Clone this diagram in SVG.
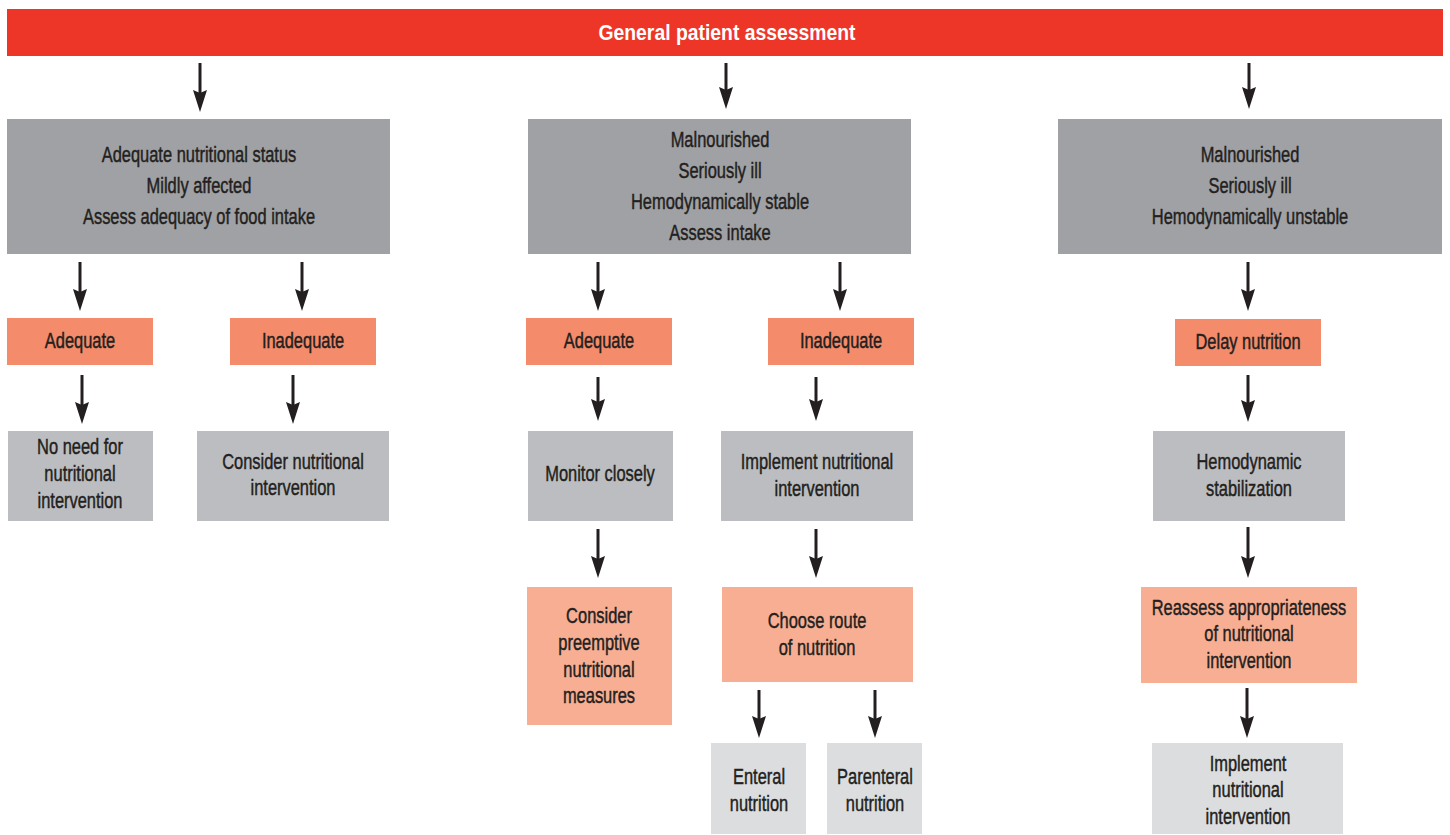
<svg xmlns="http://www.w3.org/2000/svg" width="1450" height="835" viewBox="0 0 1450 835">
<defs>
<style>
.t{font-family:"Liberation Sans",Arial,sans-serif;font-size:21.5px;fill:#231F20;stroke:#231F20;stroke-width:0.45px;text-anchor:middle}
.title{font-family:"Liberation Sans",Arial,sans-serif;font-size:22px;font-weight:bold;fill:#FFFFFF;text-anchor:middle}
.red{fill:#EE3628}
.g1{fill:#A0A1A4}
.o1{fill:#F48B6A}
.g2{fill:#BCBDC0}
.o2{fill:#F8AE93}
.g3{fill:#DCDDDF}
.arr{stroke:#231F20;stroke-width:3;fill:none;marker-end:url(#ah)}
</style>
<marker id="ah" viewBox="0 0 22 14" refX="10" refY="7" markerWidth="22" markerHeight="14" markerUnits="userSpaceOnUse" orient="auto">
<path d="M0,0 L22,7 L0,14 L3,7 z" fill="#231F20"/>
</marker>
</defs>
<rect width="1450" height="835" fill="#FFFFFF"/>

<g id="connectors">
<path class="arr" d="M200,63 V100"/>
<path class="arr" d="M726,63 V97"/>
<path class="arr" d="M1249,63 V97"/>
<path class="arr" d="M80,262 V299"/>
<path class="arr" d="M302,262 V299"/>
<path class="arr" d="M598,262 V299"/>
<path class="arr" d="M840,262 V299"/>
<path class="arr" d="M1248,262 V299"/>
<path class="arr" d="M82,375 V412"/>
<path class="arr" d="M293,375 V412"/>
<path class="arr" d="M598,377 V409"/>
<path class="arr" d="M816,377 V409"/>
<path class="arr" d="M1248,375 V410"/>
<path class="arr" d="M598,529 V566"/>
<path class="arr" d="M816,529 V566"/>
<path class="arr" d="M1248,527 V566"/>
<path class="arr" d="M759,690 V726"/>
<path class="arr" d="M875,690 V726"/>
<path class="arr" d="M1247,688 V726"/>
</g>

<g id="n-general">
<rect class="red" x="7" y="9" width="1436" height="47"/>
<text class="title" transform="translate(727,40) scale(0.88,1)" x="0" y="0">General patient assessment</text>
</g>

<g id="n-adequate-status">
<rect class="g1" x="7" y="119" width="383" height="135"/>
<g transform="translate(199,0) scale(0.765,1)">
<text class="t" x="0" y="162">Adequate nutritional status</text>
<text class="t" x="0" y="193">Mildly affected</text>
<text class="t" x="0" y="224">Assess adequacy of food intake</text>
</g>
</g>

<g id="n-malnourished-stable">
<rect class="g1" x="528" y="119" width="383" height="135"/>
<g transform="translate(720,0) scale(0.765,1)">
<text class="t" x="0" y="147">Malnourished</text>
<text class="t" x="0" y="178">Seriously ill</text>
<text class="t" x="0" y="209">Hemodynamically stable</text>
<text class="t" x="0" y="240">Assess intake</text>
</g>
</g>

<g id="n-malnourished-unstable">
<rect class="g1" x="1058" y="119" width="384" height="135"/>
<g transform="translate(1250,0) scale(0.765,1)">
<text class="t" x="0" y="162">Malnourished</text>
<text class="t" x="0" y="193">Seriously ill</text>
<text class="t" x="0" y="224">Hemodynamically unstable</text>
</g>
</g>

<g id="n-adequate-1">
<rect class="o1" x="7" y="318" width="146" height="47"/>
<g transform="translate(80,0) scale(0.765,1)"><text class="t" x="0" y="348">Adequate</text></g>
</g>

<g id="n-inadequate-1">
<rect class="o1" x="230" y="318" width="146" height="47"/>
<g transform="translate(303,0) scale(0.765,1)"><text class="t" x="0" y="348">Inadequate</text></g>
</g>

<g id="n-adequate-2">
<rect class="o1" x="526" y="318" width="146" height="47"/>
<g transform="translate(599,0) scale(0.765,1)"><text class="t" x="0" y="348">Adequate</text></g>
</g>

<g id="n-inadequate-2">
<rect class="o1" x="768" y="318" width="146" height="47"/>
<g transform="translate(841,0) scale(0.765,1)"><text class="t" x="0" y="348">Inadequate</text></g>
</g>

<g id="n-delay">
<rect class="o1" x="1175" y="319" width="146" height="47"/>
<g transform="translate(1248,0) scale(0.765,1)"><text class="t" x="0" y="349">Delay nutrition</text></g>
</g>

<g id="n-no-need">
<rect class="g2" x="8" y="431" width="145" height="90"/>
<g transform="translate(80,0) scale(0.765,1)">
<text class="t" x="0" y="454">No need for</text>
<text class="t" x="0" y="481">nutritional</text>
<text class="t" x="0" y="508">intervention</text>
</g>
</g>

<g id="n-consider-1">
<rect class="g2" x="197" y="431" width="192" height="90"/>
<g transform="translate(293,0) scale(0.765,1)">
<text class="t" x="0" y="469">Consider nutritional</text>
<text class="t" x="0" y="495">intervention</text>
</g>
</g>

<g id="n-monitor">
<rect class="g2" x="528" y="431" width="145" height="90"/>
<g transform="translate(600,0) scale(0.765,1)">
<text class="t" x="0" y="481">Monitor closely</text>
</g>
</g>

<g id="n-implement-1">
<rect class="g2" x="721" y="431" width="192" height="90"/>
<g transform="translate(817,0) scale(0.765,1)">
<text class="t" x="0" y="469">Implement nutritional</text>
<text class="t" x="0" y="496">intervention</text>
</g>
</g>

<g id="n-hemodynamic">
<rect class="g2" x="1153" y="431" width="192" height="90"/>
<g transform="translate(1249,0) scale(0.765,1)">
<text class="t" x="0" y="469">Hemodynamic</text>
<text class="t" x="0" y="496">stabilization</text>
</g>
</g>

<g id="n-preemptive">
<rect class="o2" x="527" y="587" width="145" height="138"/>
<g transform="translate(599,0) scale(0.765,1)">
<text class="t" x="0" y="623">Consider</text>
<text class="t" x="0" y="650">preemptive</text>
<text class="t" x="0" y="677">nutritional</text>
<text class="t" x="0" y="703">measures</text>
</g>
</g>

<g id="n-route">
<rect class="o2" x="722" y="587" width="191" height="95"/>
<g transform="translate(817,0) scale(0.765,1)">
<text class="t" x="0" y="628">Choose route</text>
<text class="t" x="0" y="655">of nutrition</text>
</g>
</g>

<g id="n-reassess">
<rect class="o2" x="1141" y="587" width="216" height="96"/>
<g transform="translate(1249,0) scale(0.765,1)">
<text class="t" x="0" y="615">Reassess appropriateness</text>
<text class="t" x="0" y="641">of nutritional</text>
<text class="t" x="0" y="668">intervention</text>
</g>
</g>

<g id="n-enteral">
<rect class="g3" x="711" y="743" width="95" height="91"/>
<g transform="translate(759,0) scale(0.765,1)">
<text class="t" x="0" y="784">Enteral</text>
<text class="t" x="0" y="811">nutrition</text>
</g>
</g>

<g id="n-parenteral">
<rect class="g3" x="827" y="743" width="95" height="91"/>
<g transform="translate(875,0) scale(0.765,1)">
<text class="t" x="0" y="784">Parenteral</text>
<text class="t" x="0" y="811">nutrition</text>
</g>
</g>

<g id="n-implement-2">
<rect class="g3" x="1152" y="743" width="191" height="91"/>
<g transform="translate(1248,0) scale(0.765,1)">
<text class="t" x="0" y="771">Implement</text>
<text class="t" x="0" y="797">nutritional</text>
<text class="t" x="0" y="824">intervention</text>
</g>
</g>
</svg>
